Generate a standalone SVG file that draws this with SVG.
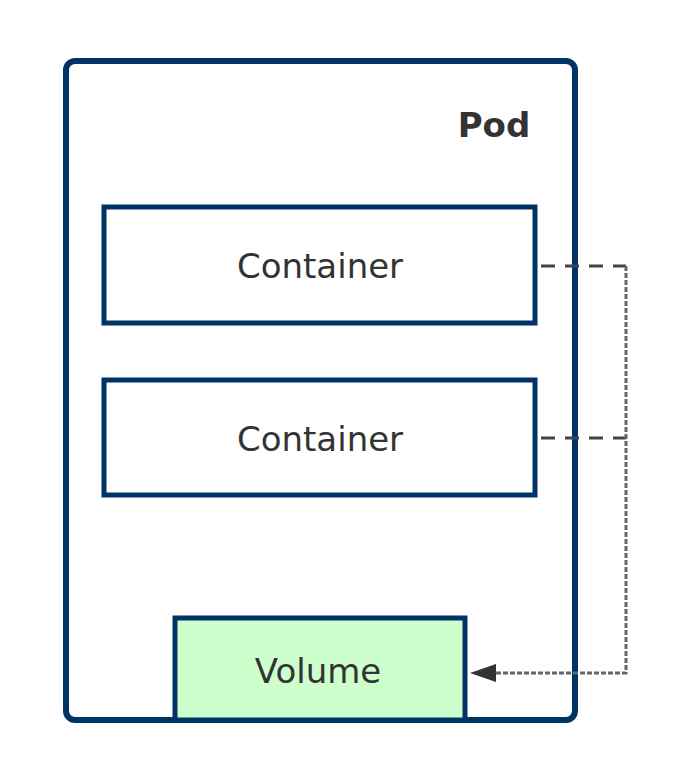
<svg xmlns="http://www.w3.org/2000/svg" width="694" height="774" viewBox="0 0 694 774">
<style>
.box{fill:#fff;stroke:#003366;stroke-width:5}
.lbl{font-family:"DejaVu Sans",sans-serif;font-size:34px;fill:#333;text-anchor:middle}
.conn{fill:none;stroke:#444;stroke-width:3;stroke-dasharray:14,10}
</style>
<rect width="694" height="774" fill="#fff"/>
<g id="pod">
<rect x="66" y="61" width="509" height="659" rx="9" fill="#fff" stroke="#003366" stroke-width="6"/>
<text x="494" y="137" style="font-family:'DejaVu Sans',sans-serif;font-size:34px;font-weight:bold;fill:#333;text-anchor:middle">Pod</text>
</g>
<g id="container1">
<rect class="box" x="104" y="207" width="431" height="116"/>
<text class="lbl" x="320" y="278">Container</text>
</g>
<g id="container2">
<rect class="box" x="104" y="380" width="431" height="115"/>
<text class="lbl" x="320" y="451">Container</text>
</g>
<g id="volume">
<rect x="175" y="618" width="290" height="102" fill="#ccffcc" stroke="#003366" stroke-width="5"/>
<text class="lbl" x="318" y="683">Volume</text>
</g>
<g id="connectors">
<path class="conn" d="M541,266H626"/>
<path class="conn" d="M541,438H626"/>
<path d="M626,266V673H494" fill="none" stroke="#666" stroke-width="3" stroke-dasharray="5,2"/>
<path d="M470,673L496,664L496,682z" fill="#333"/>
</g>
</svg>
